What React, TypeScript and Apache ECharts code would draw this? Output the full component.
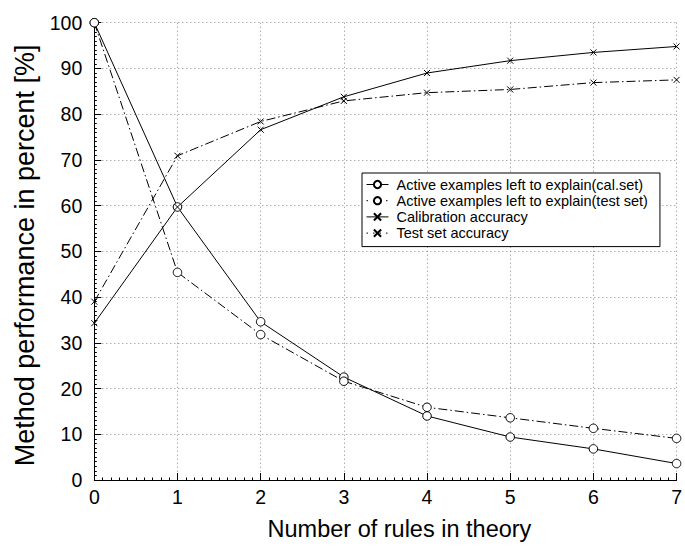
import React, { useEffect, useRef } from "react";
import * as echarts from "echarts";

const xValues = [0, 1, 2, 3, 4, 5, 6, 7];
const activeCal = [100, 59.7, 34.6, 22.5, 14.0, 9.4, 6.8, 3.6];
const activeTest = [100, 45.4, 31.8, 21.6, 15.9, 13.6, 11.3, 9.1];
const calAcc = [34.3, 59.7, 76.6, 83.8, 89.0, 91.7, 93.5, 94.8];
const testAcc = [39.0, 70.9, 78.4, 82.9, 84.7, 85.4, 86.9, 87.5];

const seriesNames = [
  "Active examples left to explain(cal.set)",
  "Active examples left to explain(test set)",
  "Calibration accuracy",
  "Test set accuracy",
];

const FONT = "Liberation Sans";
const CROSS = "path://M0,0L10,10M10,0L0,10";
const DASHDOT = [9, 3, 1.5, 3];

function pairs(vals: number[]) {
  return xValues.map((x, i) => [x, vals[i]]);
}

export default function App() {
  const ref = useRef<HTMLDivElement>(null);
  useEffect(() => {
    if (!ref.current) return;
    const chart = echarts.init(ref.current, undefined, { renderer: "svg" });
    const mk = (
      name: string,
      data: number[],
      symbol: string,
      size: number,
      dash: any
    ) => ({
      name,
      type: "line",
      data: pairs(data),
      symbol,
      symbolSize: size,
      showSymbol: true,
      clip: false,
      lineStyle: { color: "#000", width: 1, type: dash },
      itemStyle: { color: "#fff", borderColor: "#000", borderWidth: 1 },
      emphasis: { disabled: true },
      z: 3,
    });
    chart.setOption({
      animation: false,
      backgroundColor: "#fff",
      textStyle: { fontFamily: FONT },
      grid: { left: 94.3, right: 3.3, top: 22.7, bottom: 60.5 },
      legend: {
        orient: "vertical",
        left: 362,
        top: 173,
        width: 294,
        itemWidth: 22,
        itemHeight: 9,
        itemGap: 1.2,
        padding: [4, 12, 6, 4],
        borderColor: "#000",
        borderWidth: 1,
        backgroundColor: "#fff",
        textStyle: { fontFamily: FONT, fontSize: 14.5, color: "#000", padding: [0, 0, 0, 3] },
        data: [
          { name: seriesNames[0], lineStyle: { type: "solid", width: 1 } },
          { name: seriesNames[1], lineStyle: { type: [1.5, 5], width: 1 } },
          { name: seriesNames[2], lineStyle: { type: "solid", width: 1 } },
          { name: seriesNames[3], lineStyle: { type: [1.5, 5], width: 1 } },
        ],
      },
      xAxis: {
        type: "value",
        min: 0,
        max: 7,
        interval: 1,
        name: "Number of rules in theory",
        nameLocation: "middle",
        nameGap: 37,
        nameTextStyle: { fontFamily: FONT, fontSize: 23.5, color: "#000", padding: [0, 0, 0, 28] },
        axisLine: { onZero: false, lineStyle: { color: "#000", width: 1 } },
        axisTick: { inside: true, length: 7, lineStyle: { color: "#000" } },
        minorTick: { show: true, splitNumber: 10, length: 2.5, lineStyle: { color: "#000" } },
        axisLabel: { fontFamily: FONT, fontSize: 19.5, color: "#000", margin: 7 },
        splitLine: { show: true, lineStyle: { color: "#888", type: [1, 3], width: 1 } },
      },
      yAxis: {
        type: "value",
        min: 0,
        max: 100,
        interval: 10,
        name: "Method performance in percent [%]",
        nameLocation: "middle",
        nameGap: 56,
        nameTextStyle: { fontFamily: FONT, fontSize: 27, color: "#000", padding: [0, 8, 0, 0] },
        axisLine: { show: true, lineStyle: { color: "#000", width: 1 } },
        axisTick: { show: true, inside: true, length: 7, lineStyle: { color: "#000" } },
        minorTick: { show: true, splitNumber: 10, length: 2.5, lineStyle: { color: "#000" } },
        axisLabel: { fontFamily: FONT, fontSize: 19.5, color: "#000", margin: 12 },
        splitLine: { show: true, lineStyle: { color: "#888", type: [1, 3], width: 1 } },
      },
      series: [
        mk(seriesNames[0], activeCal, "circle", 8.5, "solid"),
        mk(seriesNames[1], activeTest, "circle", 8.5, DASHDOT),
        mk(seriesNames[2], calAcc, CROSS, 6, "solid"),
        mk(seriesNames[3], testAcc, CROSS, 6, DASHDOT),
      ],
    });
    return () => chart.dispose();
  }, []);
  return <div ref={ref} style={{ width: 685, height: 546, position: "absolute", left: 0, top: 0 }} />;
}
